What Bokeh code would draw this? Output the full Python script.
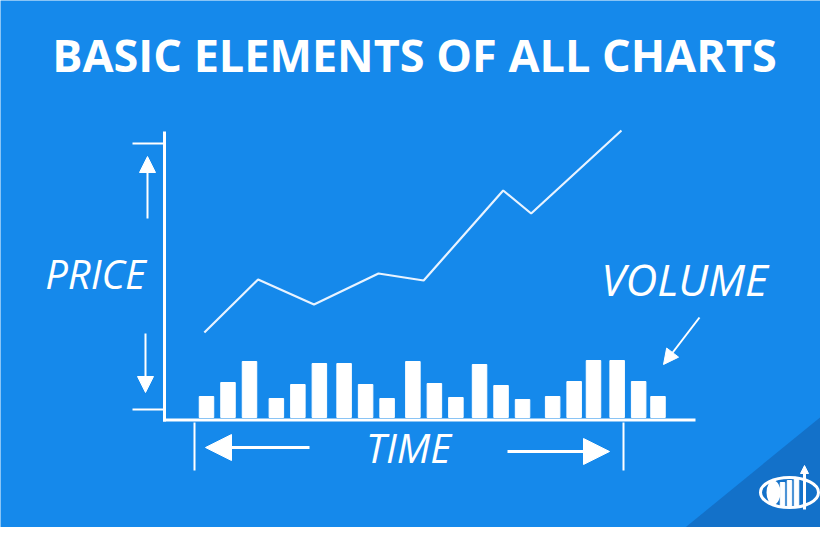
#Bokeh libs
from bokeh.embed import file_html
from bokeh.models import Arrow, ColumnDataSource, Label, NormalHead, Range1d
from bokeh.plotting import figure
from bokeh.resources import INLINE

#Data
bar_days = [0, 1, 2, 3.25, 4.25, 5.25, 6.4, 7.4, 8.4, 9.6, 10.6, 11.6, 12.7, 13.7, 14.7,
            16.1, 17.1, 18.0, 19.1, 20.1, 21.0]
volume = [21, 35, 56, 19, 33, 54, 54, 33, 19, 56, 34, 20, 53, 32, 18, 21, 36, 57, 57, 36, 21]
price_days = [-0.1, 2.4, 5.0, 8.0, 10.1, 13.8, 15.1, 19.3]
price = [43, 69.5, 57, 72.5, 69, 114, 102.5, 144]

BG = "#1589eb"
DARK = "#1371c9"
WHITE = "white"

#Main figure, default ranges are the layout grid (in page pixels)
p = figure(width=820, height=527, x_range=Range1d(8, 828), y_range=Range1d(535, 8),
           output_backend="svg", toolbar_location=None, min_border=0,
           x_axis_location=None, y_axis_location=None)
p.grid.grid_line_color = None
p.outline_line_color = None
p.background_fill_color = BG
p.border_fill_color = BG

#Data ranges
p.extra_x_ranges = {"days": Range1d((8 - 214) / 21.5, (828 - 214) / 21.5)}
p.extra_y_ranges = {"vol": Range1d(425 - 535, 425 - 8),
                    "price": Range1d((426 - 535) / 2, (426 - 8) / 2)}

#Dark corner
p.patch([836, 836, 683], [418, 543, 543], fill_color=DARK, line_color=None)

#Volume bars
bars = ColumnDataSource(dict(x=bar_days, top=volume))
p.vbar(x="x", top="top", bottom=0, width=0.674, color=WHITE, source=bars,
       x_range_name="days", y_range_name="vol")

#Price line
line = ColumnDataSource(dict(x=price_days, y=price))
p.line(x="x", y="y", line_color="#e8f3ff", line_width=2.2, source=line,
       x_range_name="days", y_range_name="price")

#Chart axes
p.segment(x0=[172, 170.5, 140, 140, 202, 631], y0=[139, 427.5, 151, 417, 430, 430],
          x1=[172, 703, 172, 172, 202, 631], y1=[429, 427.5, 151, 417, 478, 478],
          line_color=WHITE, line_width=[3, 3, 2, 2, 2, 2])

#Arrows
def arrow(x0, y0, x1, y1, size, lw=2):
    p.add_layout(Arrow(end=NormalHead(size=size, fill_color=WHITE, line_color=WHITE),
                       x_start=x0, y_start=y0, x_end=x1, y_end=y1,
                       line_color=WHITE, line_width=lw))

arrow(155, 226, 155, 164, 16)
arrow(153, 341, 153, 400, 16)
arrow(707, 325, 671, 372, 15)
arrow(317, 455, 213, 455, 26, 3)
arrow(515, 459, 617, 459, 26, 3)

#Texts
def label(x, y, text, size, style):
    p.add_layout(Label(x=x, y=y, text=text, text_font="Open Sans", text_font_style=style,
                       text_font_size=size, text_color=WHITE, text_align="center",
                       text_baseline="middle"))

label(422, 62, "BASIC ELEMENTS OF ALL CHARTS", "45px", "bold")
label(103, 281, "PRICE", "40px", "italic")
label(692, 286, "VOLUME", "44px", "italic")
label(416, 455, "TIME", "40px", "italic")

#Small logo
p.ellipse(x=797, y=500, width=58, height=30, fill_color=None, line_color=WHITE, line_width=3)
p.ellipse(x=781, y=500, width=14, height=24, fill_color=WHITE, line_color=None)
p.vbar(x=[790, 797, 804], top=[490, 488, 486], bottom=513, width=4.5, color=WHITE)
arrow(812, 517, 812, 473, 8, 3)

open("out.html", "w").write(file_html(p, INLINE))
